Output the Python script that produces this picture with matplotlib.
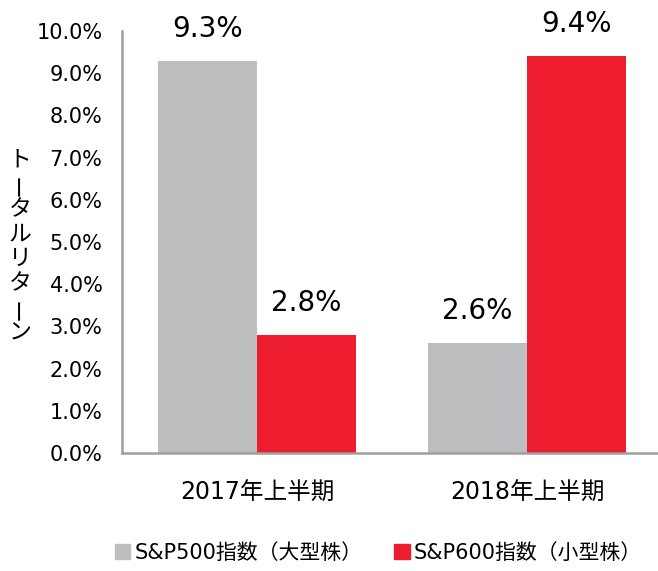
import matplotlib.pyplot as plt
from matplotlib.patches import Patch
import numpy as np

plt.rcParams['font.family'] = ['DejaVu Sans', 'Noto Sans CJK JP']

# data
periods = ["2017年上半期", "2018年上半期"]
large_cap = [9.3, 2.6]   # S&P500
small_cap = [2.8, 9.4]   # S&P600
series_names = ["S&P500指数（大型株）", "S&P600指数（小型株）"]
ylabel_chars = list("トータルリターン")

gray = "#BDBEC0"
red = "#ED1C2E"

fig = plt.figure(figsize=(6.58, 5.71), dpi=100)
ax = fig.add_axes([0.1854, 0.2067, 0.8207, 0.739])

x = np.arange(len(periods))
w = 0.367
b1 = ax.bar(x - w / 2, np.array(large_cap) / 100, w, color=gray)
b2 = ax.bar(x + w / 2, np.array(small_cap) / 100, w, color=red)

for bars, vals in ((b1, large_cap), (b2, small_cap)):
    for rect, v in zip(bars, vals):
        ax.annotate(f"{v:.1f}%", (rect.get_x() + rect.get_width() / 2, rect.get_height()),
                    xytext=(0, 23), textcoords="offset points",
                    ha="center", va="center", fontsize=20)

ax.set_xlim(-0.5, 1.5)
ax.set_ylim(0, 0.10)
ticks = np.arange(0, 0.1001, 0.01)
ax.set_yticks(ticks)
ax.set_yticklabels([f"{t * 100:.1f}%" for t in ticks], fontsize=15)
ax.set_xticks(x)
ax.set_xticklabels(periods, fontsize=17)
ax.tick_params(axis="y", length=0, pad=14)
ax.tick_params(axis="x", length=0, pad=20)

for s in ("top", "right"):
    ax.spines[s].set_visible(False)
for s in ("left", "bottom"):
    ax.spines[s].set_color("#A0A0A0")
    ax.spines[s].set_linewidth(1.8)

# vertical y label, one character at a time (long vowel mark turned upright)
y0 = 1 - 160 / 571
step = 24.7 / 571
for i, ch in enumerate(ylabel_chars):
    fig.text(20 / 658, y0 - i * step, ch, ha="center", va="center", fontsize=16.5,
             rotation=90 if ch == "ー" else 0)

handles = [Patch(color=gray), Patch(color=red)]
fig.legend(handles, series_names, loc="lower center", bbox_to_anchor=(0.575, -0.018),
           ncol=2, frameon=False, fontsize=15, handlelength=0.75, handleheight=0.75,
           handletextpad=0.2, columnspacing=1.5)

fig.savefig("out.png", dpi=100)
